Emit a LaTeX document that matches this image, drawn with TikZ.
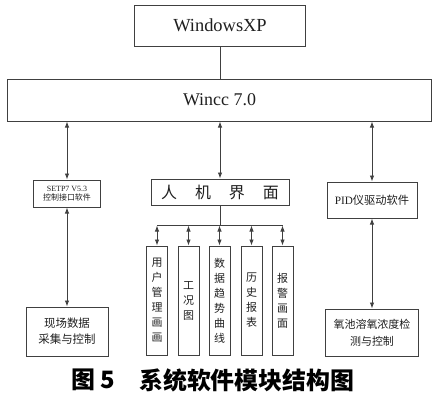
\documentclass[tikz,border=0pt]{standalone}
\usepackage{fontspec}
\setmainfont{Liberation Serif}
\newfontfamily\cjk{Noto Sans CJK SC}
\usetikzlibrary{arrows.meta,calc}
\definecolor{ln}{gray}{0.25}
\definecolor{tx}{gray}{0.12}
\tikzset{
  box/.style={draw=ln, line width=1bp, inner sep=0pt, text=tx, align=center},
  con/.style={draw=ln, line width=0.9bp},
  dbl/.style={con, {Latex[length=6bp,width=4.5bp]}-{Latex[length=6bp,width=4.5bp]}},
  vbox/.style={box, minimum width=21bp, minimum height=109bp, font=\cjk\fontsize{11}{15}\selectfont},
}
\begin{document}
\begin{tikzpicture}[x=1bp,y=-1bp]
\useasboundingbox (0,0) rectangle (440,400);
% top boxes
\node[box, minimum width=171bp, minimum height=41bp, font=\fontsize{18.5}{20}\selectfont] (xp) at (220,25.5) {WindowsXP};
\node[box, minimum width=423bp, minimum height=42bp, font=\fontsize{18}{20}\selectfont] (wincc) at (219.5,100) {Wincc 7.0};
% left column
\node[box, minimum width=67bp, minimum height=27bp, font=\fontsize{8}{9.5}\selectfont] (setp) at (67,193.5) {SETP7 V5.3\\{\cjk 控制接口软件}};
\node[box, minimum width=82bp, minimum height=49bp, font=\cjk\fontsize{11.5}{16}\selectfont] (xc) at (67,331.5) {现场数据\\采集与控制};
% middle
\node[box, minimum width=138bp, minimum height=26bp, font=\cjk\fontsize{16}{18}\selectfont] (hmi) at (220,192) {人\hspace{18bp}机\hspace{18bp}界\hspace{18bp}面};
\node[vbox] (v1) at (157,300.5) {用\\户\\管\\理\\画\\画};
\node[vbox] (v2) at (188.5,300.5) {工\\况\\图};
\node[vbox] (v3) at (219.5,300.5) {数\\据\\趋\\势\\曲\\线};
\node[vbox] (v4) at (251.5,300.5) {历\\史\\报\\表};
\node[vbox] (v5) at (282.5,300.5) {报\\警\\画\\面};
% right column
\node[box, minimum width=90bp, minimum height=36bp, font=\fontsize{11.3}{13}\selectfont] (pid) at (372,200) {PID{\cjk 仪驱动软件}};
\node[box, minimum width=93bp, minimum height=47bp, font=\cjk\fontsize{11}{17}\selectfont] (oxy) at (372,332.5) {氧池溶氧浓度检\\测与控制};
% connectors
\draw[con] (xp.south) -- (xp.south |- wincc.north);
\draw[dbl] (wincc.south -| setp.north) -- (setp.north);
\draw[dbl] (setp.south) -- (xc.north);
\draw[dbl] (wincc.south -| hmi.north) -- (hmi.north);
\draw[dbl] (wincc.south -| pid.north) -- (pid.north);
\draw[dbl] (pid.south) -- (oxy.north);
\coordinate (bus) at ($(hmi.south)+(0,20)$);
\draw[con] (hmi.south) -- (bus);
\draw[con] (v1 |- bus) -- (v5 |- bus);
\foreach \v in {v1,v2,v3,v4,v5}{
  \draw[dbl] (\v |- bus) -- (\v.north);
}
% caption
\node[anchor=west, inner sep=0pt, font=\cjk\bfseries\fontsize{24}{26}\selectfont] (cap1) at (71,380) {图 5};
\node[anchor=west, inner sep=0pt, font=\cjk\bfseries\fontsize{24}{26}\selectfont] (cap2) at (139,380) {系统软件模块结构图};
\end{tikzpicture}
\end{document}
